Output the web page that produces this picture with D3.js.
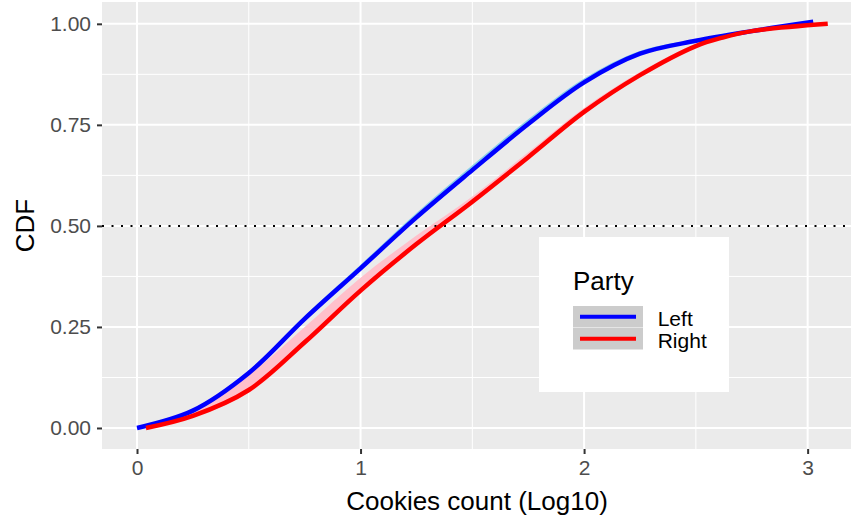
<!DOCTYPE html>
<html><head><meta charset="utf-8">
<script src="https://cdn.jsdelivr.net/npm/d3@7"></script>
<style>body{margin:0;background:#fff}svg{display:block}</style>
</head><body>
<svg id="c" width="854" height="521"></svg>
<script>
// ---- data ----
const xTicks = [0, 1, 2, 3];
const xTickLabels = ["0", "1", "2", "3"];
const yTicks = [0, 0.25, 0.5, 0.75, 1];
const yTickLabels = ["0.00", "0.25", "0.50", "0.75", "1.00"];
const seriesNames = ["Left", "Right"];

const leftX  = [0, 0.25, 0.5, 0.75, 1.0, 1.25, 1.5, 1.75, 2.0, 2.25, 2.5, 2.75, 3.025];
const leftY  = [0, 0.043, 0.136, 0.27, 0.395, 0.521, 0.638, 0.752, 0.855, 0.926, 0.958, 0.982, 1.005];
const leftLo = [0, 0.041, 0.132, 0.265, 0.390, 0.516, 0.633, 0.747, 0.851, 0.923, 0.956, 0.981, 1.004];
const leftHi = [0, 0.046, 0.142, 0.278, 0.404, 0.532, 0.650, 0.764, 0.865, 0.933, 0.962, 0.984, 1.006];

const rightX  = [0.04, 0.25, 0.5, 0.75, 1.0, 1.25, 1.5, 1.75, 2.0, 2.25, 2.5, 2.62, 2.75, 3.09];
const rightY  = [0.0, 0.03, 0.094, 0.212, 0.34, 0.455, 0.56, 0.67, 0.782, 0.873, 0.945, 0.966, 0.982, 1.0];
const rightLo = [0.0, 0.026, 0.087, 0.204, 0.332, 0.448, 0.553, 0.663, 0.776, 0.868, 0.941, 0.963, 0.980, 1.0];
const rightHi = [0.0, 0.047, 0.132, 0.25, 0.372, 0.476, 0.573, 0.682, 0.792, 0.881, 0.951, 0.970, 0.986, 1.0];

// ---- layout ----
const svg = d3.select("#c");
const P = {l: 102, r: 851, t: 2, b: 449};
const x = d3.scaleLinear().domain([-0.1566, 3.194]).range([P.l, P.r]);
const y = d3.scaleLinear().domain([-0.052, 1.054]).range([P.b, P.t]);
const FONT = "'Liberation Sans', Arial, sans-serif";

svg.append("rect").attr("x", P.l).attr("y", P.t).attr("width", P.r - P.l).attr("height", P.b - P.t).attr("fill", "#EBEBEB");

const g = svg.append("g");
// minor grid
[0.5, 1.5, 2.5].forEach(v => g.append("line").attr("x1", x(v)).attr("x2", x(v)).attr("y1", P.t).attr("y2", P.b).attr("stroke", "#fff").attr("stroke-width", 1));
[0.125, 0.375, 0.625, 0.875].forEach(v => g.append("line").attr("y1", y(v)).attr("y2", y(v)).attr("x1", P.l).attr("x2", P.r).attr("stroke", "#fff").attr("stroke-width", 1));
// major grid
xTicks.forEach(v => g.append("line").attr("x1", x(v)).attr("x2", x(v)).attr("y1", P.t).attr("y2", P.b).attr("stroke", "#fff").attr("stroke-width", 2));
yTicks.forEach(v => g.append("line").attr("y1", y(v)).attr("y2", y(v)).attr("x1", P.l).attr("x2", P.r).attr("stroke", "#fff").attr("stroke-width", 2));

// ribbons
const curve = d3.curveCatmullRom.alpha(0.5);
const area = (xs, lo, hi) => d3.area().curve(curve)
  .x((d, i) => x(xs[i])).y0((d, i) => y(lo[i])).y1((d, i) => y(hi[i]))(xs);
const line = (xs, ys) => d3.line().curve(curve)
  .x((d, i) => x(xs[i])).y((d, i) => y(ys[i]))(xs);

g.append("path").attr("d", area(leftX, leftLo, leftHi)).attr("fill", "#87CEEB");
g.append("path").attr("d", area(rightX, rightLo, rightHi)).attr("fill", "#FFC0CB");

// dotted reference
g.append("line").attr("x1", P.l).attr("x2", P.r).attr("y1", y(0.5)).attr("y2", y(0.5))
  .attr("stroke", "#000").attr("stroke-width", 2).attr("stroke-dasharray", "2,7.5");

g.append("path").attr("d", line(leftX, leftY)).attr("fill", "none").attr("stroke", "#0000FF").attr("stroke-width", 4.5);
g.append("path").attr("d", line(rightX, rightY)).attr("fill", "none").attr("stroke", "#FF0000").attr("stroke-width", 4.5);

// axes
const xa = svg.append("g").attr("transform", `translate(0,${P.b})`)
  .call(d3.axisBottom(x).tickValues(xTicks).tickFormat((d, i) => xTickLabels[i]).tickSize(5).tickPadding(6));
const ya = svg.append("g").attr("transform", `translate(${P.l},0)`)
  .call(d3.axisLeft(y).tickValues(yTicks).tickFormat((d, i) => yTickLabels[i]).tickSize(5).tickPadding(6));
[xa, ya].forEach(a => {
  a.select(".domain").remove();
  a.selectAll(".tick line").attr("stroke", "#333").attr("stroke-width", 2);
  a.selectAll(".tick text").attr("fill", "#4D4D4D").style("font-family", FONT).style("font-size", "21px");
});

svg.append("text").attr("x", 477).attr("y", 510).attr("text-anchor", "middle")
  .style("font-family", FONT).style("font-size", "26px").text("Cookies count (Log10)");
svg.append("text").attr("transform", `translate(34,${(P.t + P.b) / 2}) rotate(-90)`).attr("text-anchor", "middle")
  .style("font-family", FONT).style("font-size", "26px").text("CDF");

// legend
const L = svg.append("g");
L.append("rect").attr("x", 539).attr("y", 237).attr("width", 190).attr("height", 155).attr("fill", "#fff");
L.append("text").attr("x", 573).attr("y", 290).style("font-family", FONT).style("font-size", "26px").text("Party");
const colors = ["#0000FF", "#FF0000"];
seriesNames.forEach((n, i) => {
  const ky = 306 + i * 22;
  L.append("rect").attr("x", 573).attr("y", ky).attr("width", 70).attr("height", 21.5).attr("fill", "#CCCCCC");
  L.append("line").attr("x1", 580).attr("x2", 636).attr("y1", ky + 10.8).attr("y2", ky + 10.8).attr("stroke", colors[i]).attr("stroke-width", 4);
  L.append("text").attr("x", 657.7).attr("y", ky + 20).style("font-family", FONT).style("font-size", "21px").text(n);
});
</script>
</body></html>
